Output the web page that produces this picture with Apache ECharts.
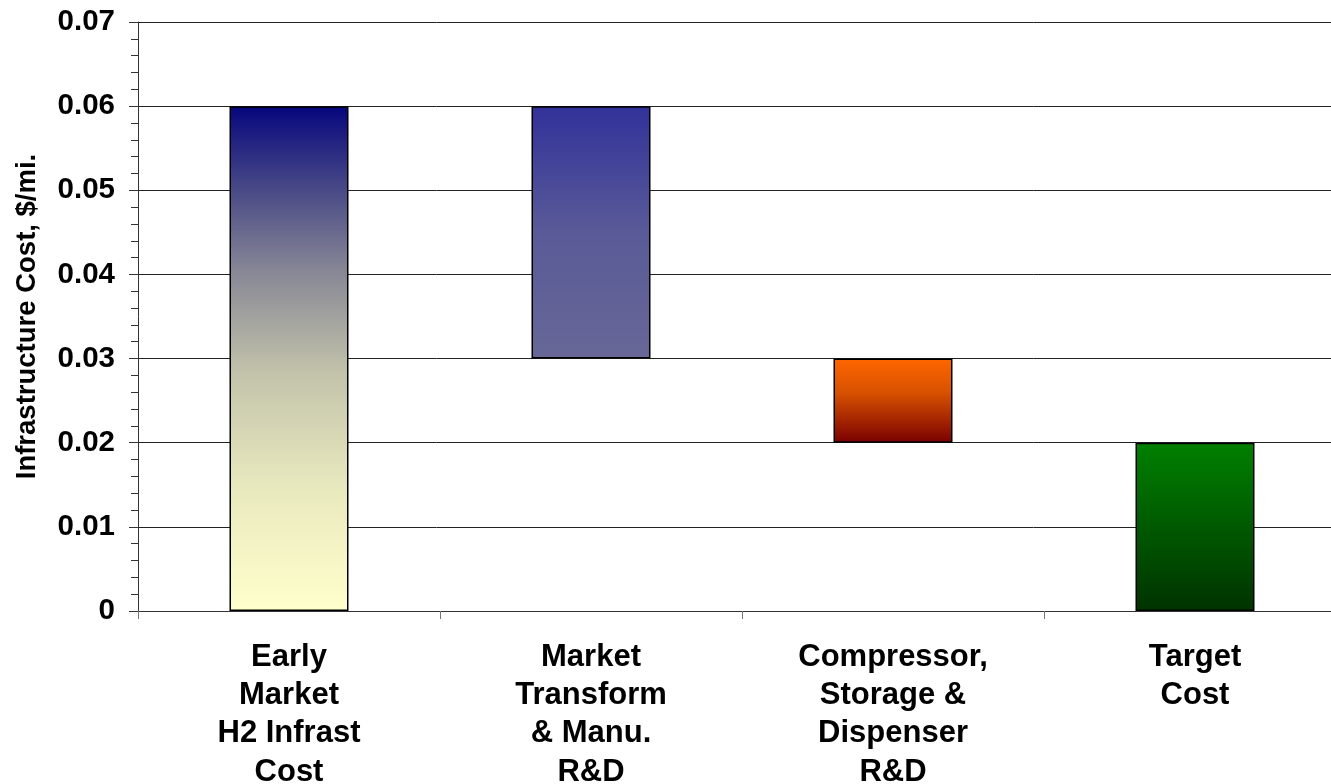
<!DOCTYPE html>
<html>
<head>
<meta charset="utf-8">
<title>Infrastructure Cost</title>
<script src="https://cdn.jsdelivr.net/npm/echarts@6/dist/echarts.min.js"></script>
<style>
  html, body { margin: 0; padding: 0; background: #ffffff; }
  #chart { width: 1331px; height: 784px; }
</style>
</head>
<body>
<div id="chart"></div>
<script>
// Cost steps (floating bars): each bar spans from its low to its high value
const categories = [
  'Early\nMarket\nH2 Infrast\nCost',
  'Market\nTransform\n& Manu.\nR&D',
  'Compressor,\nStorage &\nDispenser\nR&D',
  'Target\nCost'
];
const barLow  = [0, 0.03, 0.02, 0];
const barHigh = [0.06, 0.06, 0.03, 0.02];
const yTicks = [0, 0.01, 0.02, 0.03, 0.04, 0.05, 0.06, 0.07];

// Vertical gradient fills, one per bar
const fills = [
  [[0, '#06067e'], [0.17, '#4b4b87'], [0.33, '#888896'], [0.53, '#c3c3ab'], [0.75, '#e8e8be'], [1, '#ffffcc']],
  [[0, '#31319a'], [0.5, '#5a5a98'], [1, '#676797']],
  [[0, '#ff6600'], [0.4, '#d85200'], [1, '#7a0000']],
  [[0, '#008000'], [1, '#003300']]
];

const FONT = '"Liberation Sans", Arial, Helvetica, sans-serif';

const chart = echarts.init(document.getElementById('chart'), null, { renderer: 'canvas' });

const baseData = barLow.map(v => v);
const spanData = barHigh.map((h, i) => ({
  value: h - barLow[i],
  itemStyle: {
    color: new echarts.graphic.LinearGradient(0, 0, 0, 1,
      fills[i].map(s => ({ offset: s[0], color: s[1] }))),
    borderColor: '#000000',
    borderWidth: 1.5
  }
}));

chart.setOption({
  animation: false,
  backgroundColor: '#ffffff',
  // the last category runs past the right edge of the canvas
  grid: { left: 138, top: 22, width: 1208, height: 589, containLabel: false, outerBoundsMode: 'none' },
  xAxis: {
    type: 'category',
    data: categories,
    axisLine: { show: true, lineStyle: { color: '#333333', width: 1 } },
    axisTick: { show: true, alignWithLabel: false, length: 8, lineStyle: { color: '#777777' } },
    axisLabel: {
      interval: 0,
      margin: 27,
      color: '#000000',
      fontFamily: FONT,
      fontWeight: 'bold',
      fontSize: 31,
      lineHeight: 38.3,
      align: 'center'
    },
    splitLine: { show: false }
  },
  yAxis: {
    type: 'value',
    min: yTicks[0],
    max: yTicks[yTicks.length - 1],
    interval: 0.01,
    name: 'Infrastructure Cost, $/mi.',
    nameLocation: 'middle',
    nameRotate: 90,
    nameGap: 97,
    nameTextStyle: {
      color: '#000000',
      fontFamily: FONT,
      fontWeight: 'bold',
      fontSize: 27.5
    },
    axisLine: { show: true, lineStyle: { color: '#333333', width: 1 } },
    axisTick: { show: true, length: 9, lineStyle: { color: '#333333' } },
    minorTick: { show: true, splitNumber: 5, length: 7, lineStyle: { color: '#333333' } },
    axisLabel: {
      margin: 23,
      color: '#000000',
      fontFamily: FONT,
      fontWeight: 'bold',
      fontSize: 29.5,
      formatter: v => (v === 0 ? '0' : v.toFixed(2))
    },
    splitLine: { show: true, lineStyle: { color: '#222222', width: 1 } }
  },
  series: [
    {
      name: 'base',
      type: 'bar',
      stack: 'cost',
      barWidth: 119,
      silent: true,
      itemStyle: { color: 'rgba(0,0,0,0)', borderWidth: 0 },
      data: baseData
    },
    {
      name: 'cost',
      type: 'bar',
      stack: 'cost',
      barWidth: 119,
      data: spanData
    }
  ]
});
</script>
</body>
</html>
